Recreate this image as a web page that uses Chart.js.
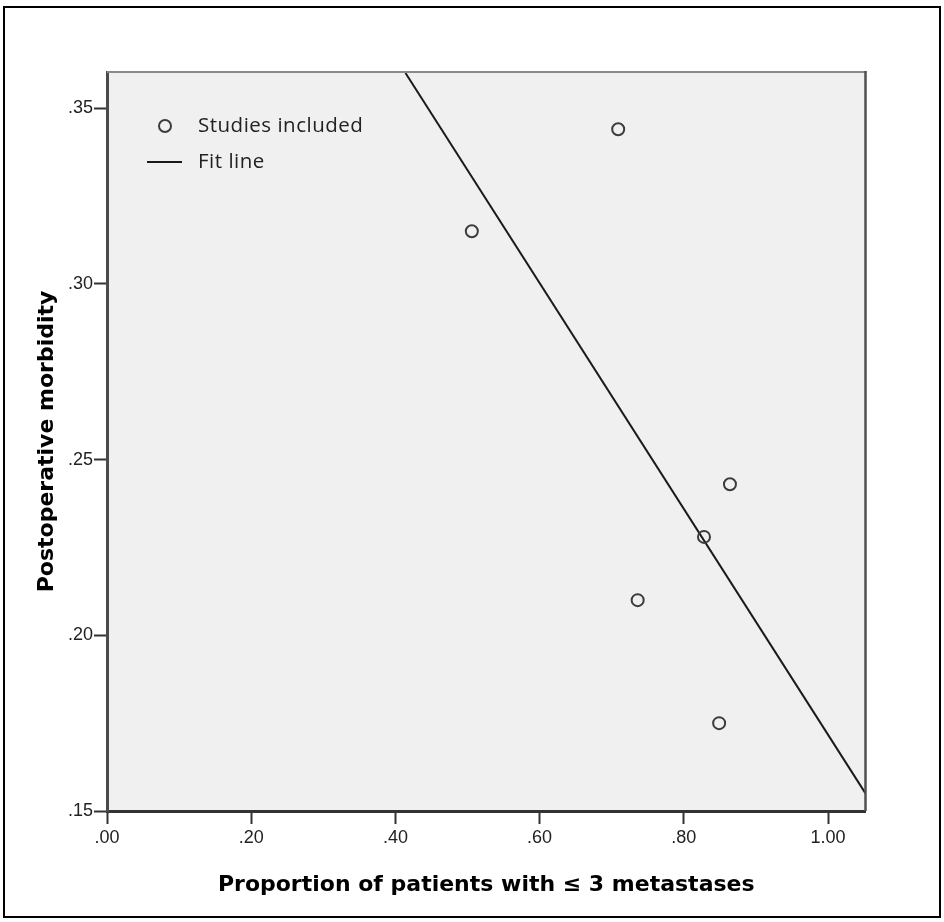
<!DOCTYPE html>
<html><head><meta charset="utf-8">
<script src="https://cdn.jsdelivr.net/npm/chart.js@4"></script>
<style>html,body{margin:0;padding:0;background:#fff}#wrap{width:944px;height:922px;position:relative}canvas{display:block}</style>
</head><body><div id="wrap"><canvas id="c" width="944" height="922"></canvas></div>
<script>
const studyX = [0.506, 0.709, 0.828, 0.864, 0.736, 0.849];
const studyY = [0.315, 0.344, 0.228, 0.243, 0.210, 0.175];
const fitX = [0.414, 1.052];
const fitY = [0.360, 0.155];
const xTickValues = [0, 0.2, 0.4, 0.6, 0.8, 1.0];
const xTickLabels = ['.00', '.20', '.40', '.60', '.80', '1.00'];
const yTickValues = [0.15, 0.20, 0.25, 0.30, 0.35];
const yTickLabels = ['.15', '.20', '.25', '.30', '.35'];
const legendLabels = ['Studies included', 'Fit line'];
const xTitle = 'Proportion of patients with \u2264 3 metastases';
const yTitle = 'Postoperative morbidity';
const xRange = [0, 1.052];
const yRange = [0.15, 0.3603];

const studyPoints = studyX.map((x, i) => ({x: x, y: studyY[i]}));
const fitPoints = fitX.map((x, i) => ({x: x, y: fitY[i]}));

const framePlugin = {
  id: 'frame',
  beforeDraw(chart) {
    const ctx = chart.ctx, a = chart.chartArea;
    ctx.save();
    ctx.fillStyle = '#ffffff';
    ctx.fillRect(0, 0, chart.width, chart.height);
    ctx.strokeStyle = '#000';
    ctx.lineWidth = 2;
    ctx.strokeRect(4, 7, 936, 910);
    ctx.fillStyle = '#f0f0f0';
    ctx.fillRect(a.left, a.top, a.right - a.left, a.bottom - a.top);
    ctx.restore();
  },
  afterDraw(chart) {
    const ctx = chart.ctx, a = chart.chartArea;
    ctx.save();
    ctx.strokeStyle = '#8a8a8a';
    ctx.lineWidth = 2;
    ctx.beginPath(); ctx.moveTo(a.left, a.top); ctx.lineTo(a.right + 1, a.top); ctx.stroke();
    ctx.strokeStyle = '#505050';
    ctx.lineWidth = 2.5;
    ctx.beginPath(); ctx.moveTo(a.right, a.top - 1); ctx.lineTo(a.right, a.bottom); ctx.stroke();
    // legend
    const lx = a.left + 40, ly1 = a.top + 54, ly2 = a.top + 90;
    ctx.strokeStyle = '#3c3c3c';
    ctx.lineWidth = 2;
    ctx.beginPath(); ctx.arc(lx + 18, ly1, 6, 0, Math.PI * 2); ctx.stroke();
    ctx.strokeStyle = '#1a1a1a';
    ctx.lineWidth = 2;
    ctx.beginPath(); ctx.moveTo(lx, ly2); ctx.lineTo(lx + 35, ly2); ctx.stroke();
    ctx.fillStyle = '#222';
    ctx.font = '20.5px "Open Sans"';
    try { ctx.letterSpacing = '0.5px'; } catch (e) {}
    ctx.textBaseline = 'middle';
    ctx.textAlign = 'left';
    ctx.fillText(legendLabels[0], lx + 51, ly1);
    ctx.fillText(legendLabels[1], lx + 51, ly2);
    ctx.restore();
  }
};

new Chart(document.getElementById('c'), {
  type: 'scatter',
  data: {
    datasets: [
      {
        label: legendLabels[0],
        data: studyPoints,
        pointRadius: 6,
        pointHoverRadius: 6,
        borderWidth: 2,
        borderColor: '#3c3c3c',
        backgroundColor: 'rgba(0,0,0,0)',
        order: 1
      },
      {
        type: 'line',
        label: legendLabels[1],
        data: fitPoints,
        showLine: true,
        borderColor: '#1a1a1a',
        borderWidth: 2,
        pointRadius: 0,
        fill: false,
        order: 2
      }
    ]
  },
  options: {
    responsive: false,
    devicePixelRatio: 1,
    animation: false,
    events: [],
    layout: {padding: {top: 72, right: 78.5, left: 0, bottom: 0}},
    plugins: {legend: {display: false}, tooltip: {enabled: false}},
    scales: {
      x: {
        type: 'linear',
        min: xRange[0], max: xRange[1],
        afterFit(s) { s.height = 111; },
        afterBuildTicks(s) { s.ticks = xTickValues.map(v => ({value: v})); },
        ticks: {
          callback(v) { const i = xTickValues.findIndex(t => Math.abs(t - v) < 1e-9); return i >= 0 ? xTickLabels[i] : ''; },
          font: {family: '"Liberation Sans", Arial', size: 18},
          color: '#222', padding: 3, maxRotation: 0, autoSkip: false
        },
        grid: {drawOnChartArea: false, drawTicks: true, tickLength: 13, tickWidth: 2, tickColor: '#333'},
        border: {display: true, color: '#333', width: 3},
        title: {display: true, text: xTitle, color: '#000',
          font: {family: '"DejaVu Sans"', size: 22, weight: 'bold'},
          padding: {top: 0, bottom: 24}}
      },
      y: {
        type: 'linear',
        min: yRange[0], max: yRange[1],
        afterFit(s) { s.width = 107; },
        afterBuildTicks(s) { s.ticks = yTickValues.map(v => ({value: v})); },
        ticks: {
          callback(v) { const i = yTickValues.findIndex(t => Math.abs(t - v) < 1e-9); return i >= 0 ? yTickLabels[i] : ''; },
          font: {family: '"Liberation Sans", Arial', size: 18},
          color: '#222', padding: 1, autoSkip: false
        },
        grid: {drawOnChartArea: false, drawTicks: true, tickLength: 13, tickWidth: 2, tickColor: '#333'},
        border: {display: true, color: '#4a4a4a', width: 3},
        title: {display: true, text: yTitle, color: '#000',
          font: {family: '"DejaVu Sans"', size: 22, weight: 'bold'},
          padding: {top: 34, bottom: 0}}
      }
    }
  },
  plugins: [framePlugin]
});
</script>
</body></html>
